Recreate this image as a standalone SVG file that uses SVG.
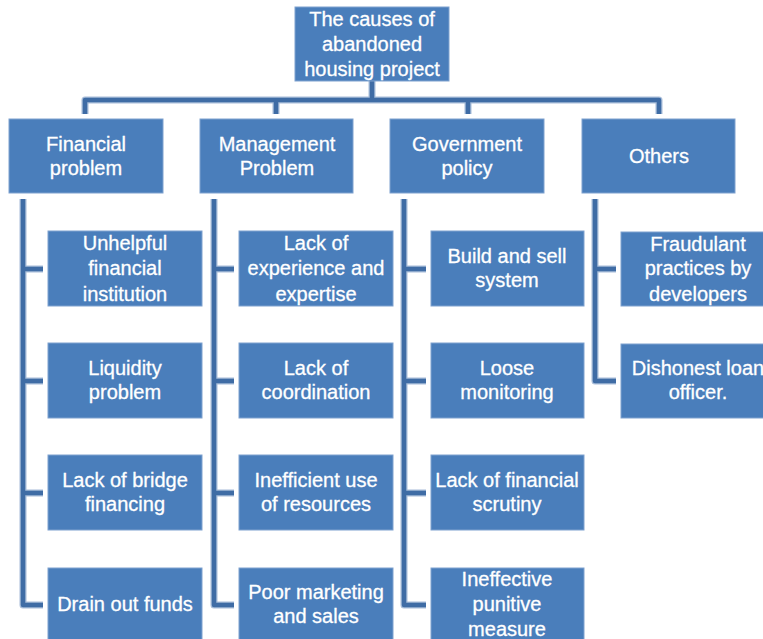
<svg xmlns="http://www.w3.org/2000/svg" width="763" height="639" viewBox="0 0 763 639">
<defs>
<style>
.box{fill:#4A7EBB;stroke:#7FA2CF;stroke-width:1}
.t{font-family:"Liberation Sans",Arial,sans-serif;font-size:20px;fill:#FFFFFF;stroke:#FFFFFF;stroke-width:0.3;text-anchor:middle;dominant-baseline:central}
.co{fill:none;stroke:#A7BCD9;stroke-width:7;stroke-linejoin:round;stroke-linecap:butt}
.ci{fill:none;stroke:#3F6CA5;stroke-width:4.5;stroke-linejoin:round;stroke-linecap:butt}
</style>
</defs>
<rect width="763" height="639" fill="#FFFFFF"/>
<g id="connectors">
<g class="co">
<path d="M372 81 V100"/>
<path d="M85 114 V100 H659 V114"/>
<path d="M276 100 V114"/>
<path d="M468 100 V114"/>
<path d="M23 199 V605 H43 M23 269 H43 M23 381 H43 M23 493 H43"/>
<path d="M214 199 V605 H234 M214 269 H234 M214 381 H234 M214 493 H234"/>
<path d="M404 199 V605 H426 M404 269 H426 M404 381 H426 M404 493 H426"/>
<path d="M595 199 V381 H616 M595 269 H616"/>
</g>
<g class="ci">
<path d="M372 81 V100"/>
<path d="M85 114 V100 H659 V114"/>
<path d="M276 100 V114"/>
<path d="M468 100 V114"/>
<path d="M23 199 V605 H43 M23 269 H43 M23 381 H43 M23 493 H43"/>
<path d="M214 199 V605 H234 M214 269 H234 M214 381 H234 M214 493 H234"/>
<path d="M404 199 V605 H426 M404 269 H426 M404 381 H426 M404 493 H426"/>
<path d="M595 199 V381 H616 M595 269 H616"/>
</g>
</g>
<g id="root"><rect class="box" x="295" y="7" width="154" height="74"/>
<text class="t" x="372" y="19">The causes of</text><text class="t" x="372" y="44">abandoned</text><text class="t" x="372" y="69">housing project</text></g>
<g id="financial"><rect class="box" x="9" y="119" width="154" height="74"/>
<text class="t" x="86" y="144">Financial</text><text class="t" x="86" y="168">problem</text></g>
<g id="management"><rect class="box" x="200" y="119" width="153" height="74"/>
<text class="t" x="277" y="144">Management</text><text class="t" x="277" y="168">Problem</text></g>
<g id="government"><rect class="box" x="390" y="119" width="154" height="74"/>
<text class="t" x="467" y="144">Government</text><text class="t" x="467" y="168">policy</text></g>
<g id="others"><rect class="box" x="582" y="119" width="153" height="74"/>
<text class="t" x="659" y="156">Others</text></g>

<g id="f1"><rect class="box" x="48" y="231" width="154" height="75"/>
<text class="t" x="125" y="243">Unhelpful</text><text class="t" x="125" y="268">financial</text><text class="t" x="125" y="294">institution</text></g>
<g id="f2"><rect class="box" x="48" y="343" width="154" height="75"/>
<text class="t" x="125" y="368">Liquidity</text><text class="t" x="125" y="392">problem</text></g>
<g id="f3"><rect class="box" x="48" y="455" width="154" height="75"/>
<text class="t" x="125" y="480">Lack of bridge</text><text class="t" x="125" y="504">financing</text></g>
<g id="f4"><rect class="box" x="48" y="568" width="154" height="75"/>
<text class="t" x="125" y="604">Drain out funds</text></g>

<g id="m1"><rect class="box" x="239" y="231" width="154" height="75"/>
<text class="t" x="316" y="243">Lack of</text><text class="t" x="316" y="268">experience and</text><text class="t" x="316" y="294">expertise</text></g>
<g id="m2"><rect class="box" x="239" y="343" width="154" height="75"/>
<text class="t" x="316" y="368">Lack of</text><text class="t" x="316" y="392">coordination</text></g>
<g id="m3"><rect class="box" x="239" y="455" width="154" height="75"/>
<text class="t" x="316" y="480">Inefficient use</text><text class="t" x="316" y="504">of resources</text></g>
<g id="m4"><rect class="box" x="239" y="568" width="154" height="75"/>
<text class="t" x="316" y="592">Poor marketing</text><text class="t" x="316" y="616">and sales</text></g>

<g id="g1"><rect class="box" x="431" y="231" width="153" height="75"/>
<text class="t" x="507" y="256">Build and sell</text><text class="t" x="507" y="280">system</text></g>
<g id="g2"><rect class="box" x="431" y="343" width="153" height="75"/>
<text class="t" x="507" y="368">Loose</text><text class="t" x="507" y="392">monitoring</text></g>
<g id="g3"><rect class="box" x="431" y="455" width="153" height="75"/>
<text class="t" x="507" y="480">Lack of financial</text><text class="t" x="507" y="504">scrutiny</text></g>
<g id="g4"><rect class="box" x="431" y="568" width="153" height="75"/>
<text class="t" x="507" y="579">Ineffective</text><text class="t" x="507" y="604">punitive</text><text class="t" x="507" y="629">measure</text></g>

<g id="o1"><rect class="box" x="621" y="232" width="154" height="74"/>
<text class="t" x="698" y="244">Fraudulant</text><text class="t" x="698" y="268">practices by</text><text class="t" x="698" y="294">developers</text></g>
<g id="o2"><rect class="box" x="621" y="344" width="154" height="74"/>
<text class="t" x="698" y="368">Dishonest loan</text><text class="t" x="698" y="392">officer.</text></g>
</svg>
